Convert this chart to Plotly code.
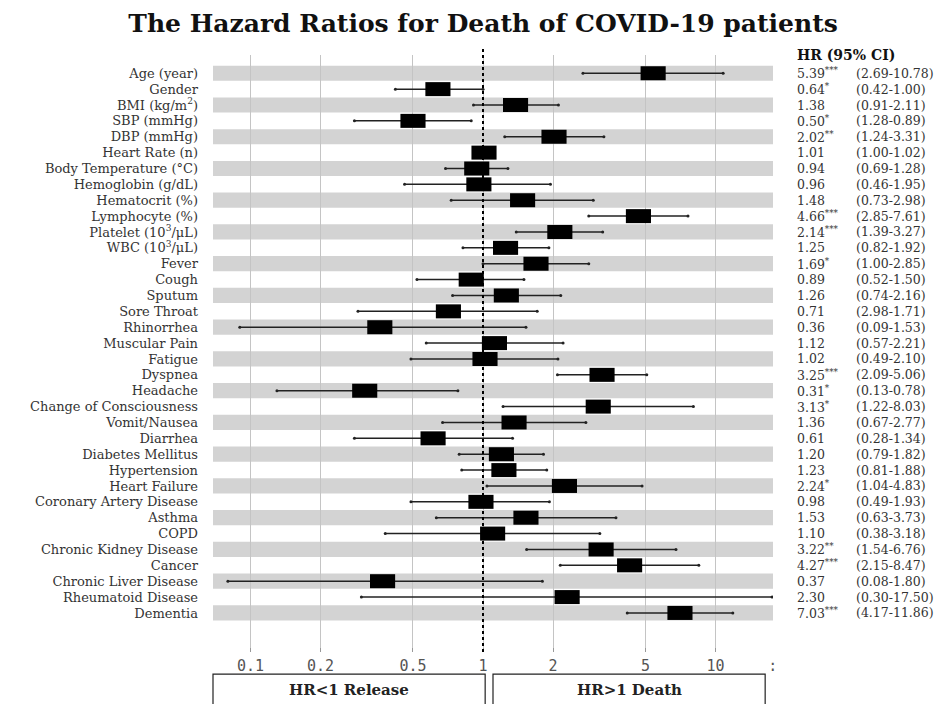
import plotly.graph_objects as go

labels = ["Age (year)", "Gender", "BMI (kg/m<sup>2</sup>)", "SBP (mmHg)", "DBP (mmHg)",
          "Heart Rate (n)", "Body Temperature (°C)", "Hemoglobin (g/dL)", "Hematocrit (%)",
          "Lymphocyte (%)", "Platelet (10<sup>3</sup>/μL)", "WBC (10<sup>3</sup>/μL)", "Fever",
          "Cough", "Sputum", "Sore Throat", "Rhinorrhea", "Muscular Pain", "Fatigue",
          "Dyspnea", "Headache", "Change of Consciousness", "Vomit/Nausea", "Diarrhea",
          "Diabetes Mellitus", "Hypertension", "Heart Failure", "Coronary Artery Disease",
          "Asthma", "COPD", "Chronic Kidney Disease", "Cancer", "Chronic Liver Disease",
          "Rheumatoid Disease", "Dementia"]

hr = [5.39, 0.64, 1.38, 0.50, 2.02, 1.01, 0.94, 0.96, 1.48, 4.66, 2.14, 1.25, 1.69,
      0.89, 1.26, 0.71, 0.36, 1.12, 1.02, 3.25, 0.31, 3.13, 1.36, 0.61, 1.20, 1.23,
      2.24, 0.98, 1.53, 1.10, 3.22, 4.27, 0.37, 2.30, 7.03]

# lower / upper limits as drawn in the picture
lo = [2.69, 0.42, 0.91, 0.28, 1.24, 1.00, 0.69, 0.46, 0.73, 2.85, 1.39, 0.82, 1.00,
      0.52, 0.74, 0.29, 0.09, 0.57, 0.49, 2.09, 0.13, 1.22, 0.67, 0.28, 0.79, 0.81,
      1.04, 0.49, 0.63, 0.38, 1.54, 2.15, 0.08, 0.30, 4.17]
hi = [10.78, 1.00, 2.11, 0.89, 3.31, 1.02, 1.28, 1.95, 2.98, 7.61, 3.27, 1.92, 2.85,
      1.50, 2.16, 1.71, 1.53, 2.21, 2.10, 5.06, 0.78, 8.03, 2.77, 1.34, 1.82, 1.88,
      4.83, 1.93, 3.73, 3.18, 6.76, 8.47, 1.80, 17.50, 11.86]

stars = ["***", "*", "", "*", "**", "", "", "", "", "***", "***", "", "*",
         "", "", "", "", "", "", "***", "*", "*", "", "", "", "",
         "*", "", "", "", "**", "***", "", "", "***"]

# CI text as printed in the table
ci_text = ["(2.69-10.78)", "(0.42-1.00)", "(0.91-2.11)", "(1.28-0.89)", "(1.24-3.31)",
           "(1.00-1.02)", "(0.69-1.28)", "(0.46-1.95)", "(0.73-2.98)", "(2.85-7.61)",
           "(1.39-3.27)", "(0.82-1.92)", "(1.00-2.85)", "(0.52-1.50)", "(0.74-2.16)",
           "(2.98-1.71)", "(0.09-1.53)", "(0.57-2.21)", "(0.49-2.10)", "(2.09-5.06)",
           "(0.13-0.78)", "(1.22-8.03)", "(0.67-2.77)", "(0.28-1.34)", "(0.79-1.82)",
           "(0.81-1.88)", "(1.04-4.83)", "(0.49-1.93)", "(0.63-3.73)", "(0.38-3.18)",
           "(1.54-6.76)", "(2.15-8.47)", "(0.08-1.80)", "(0.30-17.50)", "(4.17-11.86)"]

tick_vals = [0.1, 0.2, 0.5, 1, 2, 5, 10, 17.6]
tick_text = ["0.1", "0.2", "0.5", "1", "2", "5", "10", ":"]

SERIF = "DejaVu Serif"
n = len(labels)
rows = list(range(n))

fig = go.Figure()

# gray bands
shapes = []
for i in rows:
    if i % 2 == 0:
        shapes.append(dict(type="rect", xref="paper", yref="y", x0=0, x1=1,
                           y0=i - 0.48, y1=i + 0.48, fillcolor="#d3d3d3",
                           line=dict(width=0), layer="below"))

# whiskers
wx, wy = [], []
for i in rows:
    wx += [lo[i], hi[i], None]
    wy += [i, i, None]
fig.add_trace(go.Scatter(x=wx, y=wy, mode="lines",
                         line=dict(color="#222", width=1.5), hoverinfo="skip",
                         showlegend=False))
fig.add_trace(go.Scatter(x=lo + hi, y=rows + rows, mode="markers",
                         marker=dict(color="#222", size=3), hoverinfo="skip",
                         showlegend=False))

# boxes (rectangles)
half = 10 ** 0.054
bx, by = [], []
for i in rows:
    bx += [hr[i] / half, hr[i] * half, None]
    by += [i, i, None]
fig.add_trace(go.Scatter(x=bx, y=by, mode="lines",
                         line=dict(color="black", width=14), hoverinfo="skip",
                         showlegend=False))

# dotted reference line at 1
shapes.append(dict(type="line", xref="x", yref="paper", x0=1, x1=1, y0=0, y1=1.01,
                   line=dict(color="black", width=2, dash="dot")))

# bottom boxes
shapes.append(dict(type="rect", xref="paper", yref="paper", x0=0.0, x1=0.486,
                   y0=-0.0369, y1=-0.1, line=dict(color="#222", width=1.2)))
shapes.append(dict(type="rect", xref="paper", yref="paper", x0=0.500, x1=0.986,
                   y0=-0.0369, y1=-0.1, line=dict(color="#222", width=1.2)))

annotations = []
annotations.append(dict(text="<b>HR<1 Release</b>", xref="paper", yref="paper",
                        x=0.243, y=-0.064, showarrow=False, xanchor="center",
                        yanchor="middle", font=dict(family=SERIF, size=15, color="#222")))
annotations.append(dict(text="<b>HR>1 Death</b>", xref="paper", yref="paper",
                        x=0.743, y=-0.064, showarrow=False, xanchor="center",
                        yanchor="middle", font=dict(family=SERIF, size=15, color="#222")))

annotations.append(dict(text="<b>HR (95% CI)</b>", xref="paper", yref="y",
                        x=1.039, y=-0.55, showarrow=False, xanchor="left",
                        yanchor="bottom", font=dict(family=SERIF, size=14, color="#111")))
for i in rows:
    t = f"{hr[i]:.2f}" + (f"<sup>{stars[i]}</sup>" if stars[i] else "")
    annotations.append(dict(text=t, xref="paper", yref="y", x=1.039, y=i,
                            showarrow=False, xanchor="left", yanchor="middle",
                            font=dict(family=SERIF, size=12.5, color="#333")))
    annotations.append(dict(text=ci_text[i], xref="paper", yref="y", x=1.1446, y=i,
                            showarrow=False, xanchor="left", yanchor="middle",
                            font=dict(family=SERIF, size=12.5, color="#333")))

# figure is offset by the page's 8px body margin
fig.update_layout(
    width=937, height=696,
    margin=dict(l=205, r=172, t=47, b=52),
    plot_bgcolor="white", paper_bgcolor="white",
    title=dict(text="<b>The Hazard Ratios for Death of COVID-19 patients</b>",
               x=0.507, xanchor="center", y=0.978, yanchor="middle",
               font=dict(family=SERIF, size=25, color="#111")),
    shapes=shapes, annotations=annotations,
    xaxis=dict(type="log", range=[-1.161, 1.247], tickvals=tick_vals, ticktext=tick_text,
               showgrid=True, gridcolor="#c4c4c4", gridwidth=1, zeroline=False,
               showline=False, ticks="inside", ticklen=4, tickcolor="#999",
               ticklabelstandoff=3,
               tickfont=dict(family="DejaVu Sans Mono", size=15, color="#555")),
    yaxis=dict(range=[36.46, -1.15], tickvals=rows, ticktext=labels, showgrid=False,
               zeroline=False, showline=False, ticks="", ticklabelstandoff=14,
               tickfont=dict(family=SERIF, size=13, color="#333")),
)

fig.write_html("out.html")
